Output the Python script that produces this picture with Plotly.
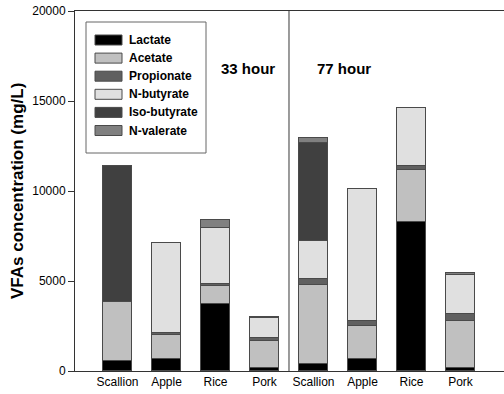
import plotly.graph_objects as go

categories = ["Scallion", "Apple", "Rice", "Pork", "Scallion", "Apple", "Rice", "Pork"]
series_names = ["Lactate", "Acetate", "Propionate", "N-butyrate", "Iso-butyrate", "N-valerate"]
lactate = [570, 665, 3730, 150, 390, 665, 8270, 150]
acetate = [3270, 1315, 980, 1495, 4410, 1825, 2900, 2640]
propionate = [0, 110, 130, 200, 310, 280, 230, 370]
n_butyrate = [0, 5040, 3120, 1075, 2090, 7350, 3210, 2180]
iso_butyrate = [7570, 0, 0, 0, 5450, 0, 0, 0]
n_valerate = [0, 0, 410, 90, 275, 0, 0, 130]
y_ticks = [0, 5000, 10000, 15000, 20000]
period_labels = ["33 hour", "77 hour"]

series_values = [lactate, acetate, propionate, n_butyrate, iso_butyrate, n_valerate]
colors = ["#000000", "#c0c0c0", "#606060", "#e0e0e0", "#404040", "#808080"]

FONT = "Arial, Liberation Sans"
xpos = list(range(len(categories)))

fig = go.Figure()
for name, vals, col in zip(series_names, series_values, colors):
    fig.add_trace(go.Bar(
        x=xpos, y=vals, name=name, width=0.61,
        marker=dict(color=col, line=dict(color="#4a4a4a", width=1)),
        showlegend=False,
    ))

W, H = 504, 394
ml, mr, mt, mb = 75, 0, 11, 23
pw, ph = W - ml - mr, H - mt - mb

def px_x(p):
    return (p - ml) / pw

def px_y(p):
    return (H - mb - p) / ph

shapes = []
annotations = []

# divider between the two periods
shapes.append(dict(type="line", xref="x", yref="paper", x0=3.5, x1=3.5, y0=0, y1=1,
                   line=dict(color="#7a7a7a", width=1.5)))

# legend box
shapes.append(dict(type="rect", xref="paper", yref="paper",
                   x0=px_x(86), x1=px_x(206), y0=px_y(153), y1=px_y(22),
                   line=dict(color="#666666", width=1), fillcolor="white"))
for i, (name, col) in enumerate(zip(series_names, colors)):
    cy = 40 + 18.1 * i
    shapes.append(dict(type="rect", xref="paper", yref="paper",
                       x0=px_x(95), x1=px_x(122), y0=px_y(cy + 5), y1=px_y(cy - 5),
                       line=dict(color="#4a4a4a", width=1), fillcolor=col))
    annotations.append(dict(x=px_x(127), y=px_y(cy), xref="paper", yref="paper",
                            text=name, showarrow=False, xanchor="left", yanchor="middle",
                            font=dict(family=FONT, size=12, color="black", weight="bold")))

# period labels
for xc, lab in zip([2.66, 4.62], period_labels):
    annotations.append(dict(x=xc, y=16790, xref="x", yref="y", text=lab, showarrow=False,
                            xanchor="center", yanchor="middle",
                            font=dict(family=FONT, size=15, color="black", weight="bold")))

# y axis title
annotations.append(dict(x=px_x(17), y=0.5, xref="paper", yref="paper",
                        text="VFAs concentration (mg/L)", textangle=-90, showarrow=False,
                        xanchor="center", yanchor="middle",
                        font=dict(family=FONT, size=17, color="black", weight="bold")))

fig.update_layout(
    width=W, height=H,
    margin=dict(l=ml, r=mr, t=mt, b=mb),
    barmode="stack", bargap=0,
    plot_bgcolor="white", paper_bgcolor="white",
    shapes=shapes, annotations=annotations,
    font=dict(family=FONT, size=12, color="black"),
    xaxis=dict(range=[-0.867, 7.888], tickmode="array", tickvals=xpos, ticktext=categories,
               showline=True, mirror=True, linecolor="#333333", linewidth=1,
               ticks="", showgrid=False, zeroline=False,
               tickfont=dict(family=FONT, size=12, color="black")),
    yaxis=dict(range=[0, 20000], tickmode="array", tickvals=y_ticks, tickformat="d",
               showline=True, linecolor="#333333", linewidth=1,
               ticks="outside", ticklen=6, tickcolor="#333333",
               showgrid=False, zeroline=False,
               tickfont=dict(family=FONT, size=12, color="black")),
)

fig.write_html("out.html")
